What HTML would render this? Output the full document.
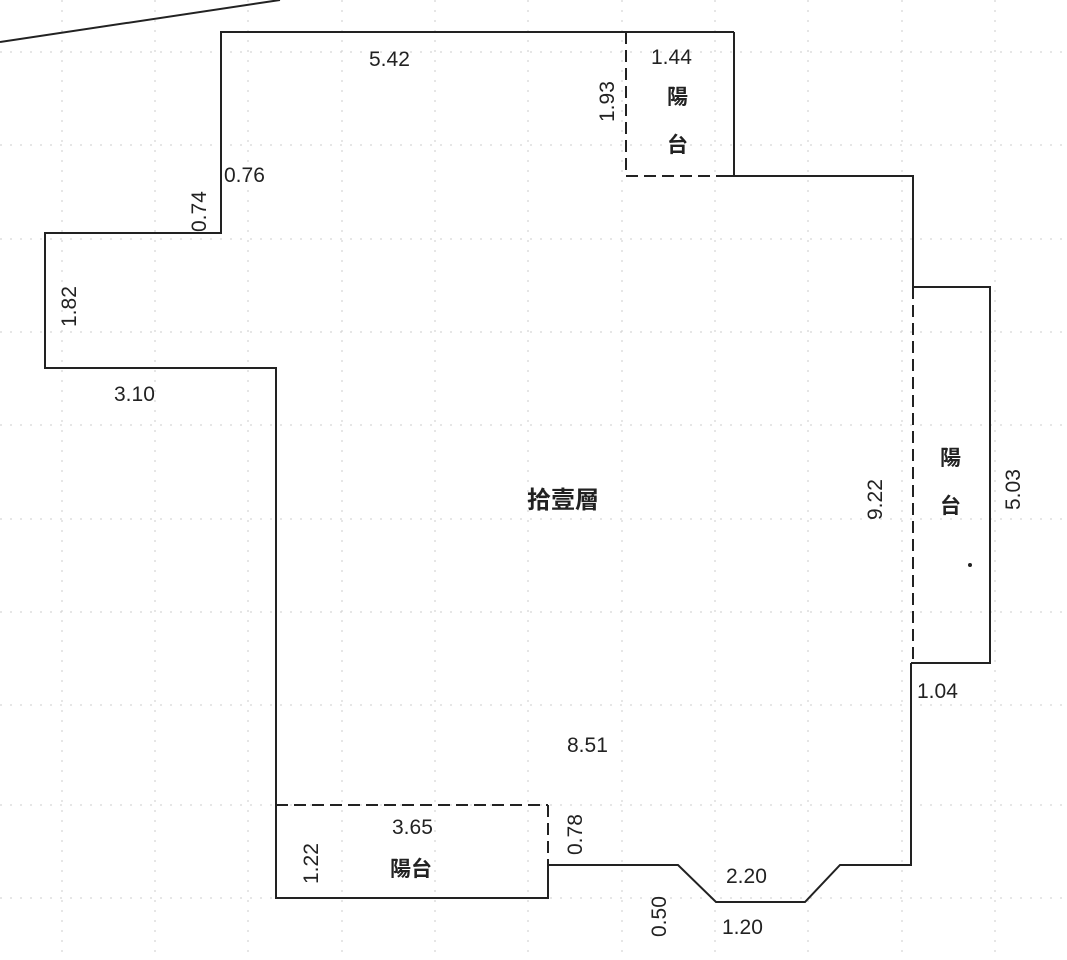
<!DOCTYPE html>
<html><head><meta charset="utf-8"><style>
html,body{margin:0;padding:0;background:#fff;}
svg{display:block;}
text{font-family:"Liberation Sans","Noto Sans CJK TC",sans-serif;fill:#222;}
.c{font-family:"Noto Sans CJK TC","WenQuanYi Zen Hei",sans-serif;font-weight:bold;}
</style></head><body>
<svg width="1067" height="960" viewBox="0 0 1067 960" xmlns="http://www.w3.org/2000/svg">
<g stroke="#ccc" stroke-width="1" stroke-dasharray="2,8">
<line x1="62" y1="0" x2="62" y2="960"/><line x1="155" y1="0" x2="155" y2="960"/>
<line x1="248" y1="0" x2="248" y2="960"/><line x1="342" y1="0" x2="342" y2="960"/>
<line x1="435" y1="0" x2="435" y2="960"/><line x1="528" y1="0" x2="528" y2="960"/>
<line x1="622" y1="0" x2="622" y2="960"/><line x1="715" y1="0" x2="715" y2="960"/>
<line x1="808" y1="0" x2="808" y2="960"/><line x1="902" y1="0" x2="902" y2="960"/>
<line x1="995" y1="0" x2="995" y2="960"/>
<line x1="0" y1="52" x2="1067" y2="52"/><line x1="0" y1="145" x2="1067" y2="145"/>
<line x1="0" y1="239" x2="1067" y2="239"/><line x1="0" y1="332" x2="1067" y2="332"/>
<line x1="0" y1="425" x2="1067" y2="425"/><line x1="0" y1="519" x2="1067" y2="519"/>
<line x1="0" y1="612" x2="1067" y2="612"/><line x1="0" y1="705" x2="1067" y2="705"/>
<line x1="0" y1="805" x2="1067" y2="805"/><line x1="0" y1="898" x2="1067" y2="898"/>
</g>
<g fill="none" stroke="#222" stroke-width="2">
<line x1="0" y1="42" x2="280" y2="0"/>
<polyline points="718,176 913,176 913,287"/>
<polyline points="626,32 221,32 221,233 45,233 45,368 276,368 276,898 548,898 548,865 678,865 716,902 805,902 840,865 911,865 911,663"/>
<polyline points="734,32 734,176"/>
<line x1="626" y1="32" x2="734" y2="32"/>
<polyline points="913,287 990,287 990,663 911,663"/>
</g>
<g fill="none" stroke="#222" stroke-width="2" stroke-dasharray="12,6">
<line x1="626" y1="32" x2="626" y2="176"/>
<line x1="626" y1="176" x2="718" y2="176"/>
<line x1="913" y1="287" x2="913" y2="663"/>
<line x1="276" y1="805" x2="548" y2="805"/>
<line x1="548" y1="805" x2="548" y2="865"/>
</g>
<g font-size="21">
<text x="369" y="66">5.42</text>
<text x="651" y="64">1.44</text>
<text x="224" y="182">0.76</text>
<text x="114" y="401">3.10</text>
<text x="917" y="698">1.04</text>
<text x="567" y="752">8.51</text>
<text x="392" y="834">3.65</text>
<text x="726" y="883">2.20</text>
<text x="722" y="934">1.20</text>
<text transform="translate(614,122) rotate(-90)">1.93</text>
<text transform="translate(206,232) rotate(-90)">0.74</text>
<text transform="translate(76,327) rotate(-90)">1.82</text>
<text transform="translate(882,520) rotate(-90)">9.22</text>
<text transform="translate(1020,510) rotate(-90)">5.03</text>
<text transform="translate(582,855) rotate(-90)">0.78</text>
<text transform="translate(318,884) rotate(-90)">1.22</text>
<text transform="translate(666,937) rotate(-90)">0.50</text>
</g>
<g font-size="21" class="c">
<text class="c" x="667" y="104">陽</text>
<text class="c" x="667" y="152">台</text>
<text class="c" x="940" y="465">陽</text>
<text class="c" x="940" y="513">台</text>
<text class="c" x="390" y="876">陽台</text>
<text class="c" x="527" y="508" font-size="24">拾壹層</text>
</g>
<circle cx="970" cy="565" r="2" fill="#222"/>
</svg>
</body></html>
